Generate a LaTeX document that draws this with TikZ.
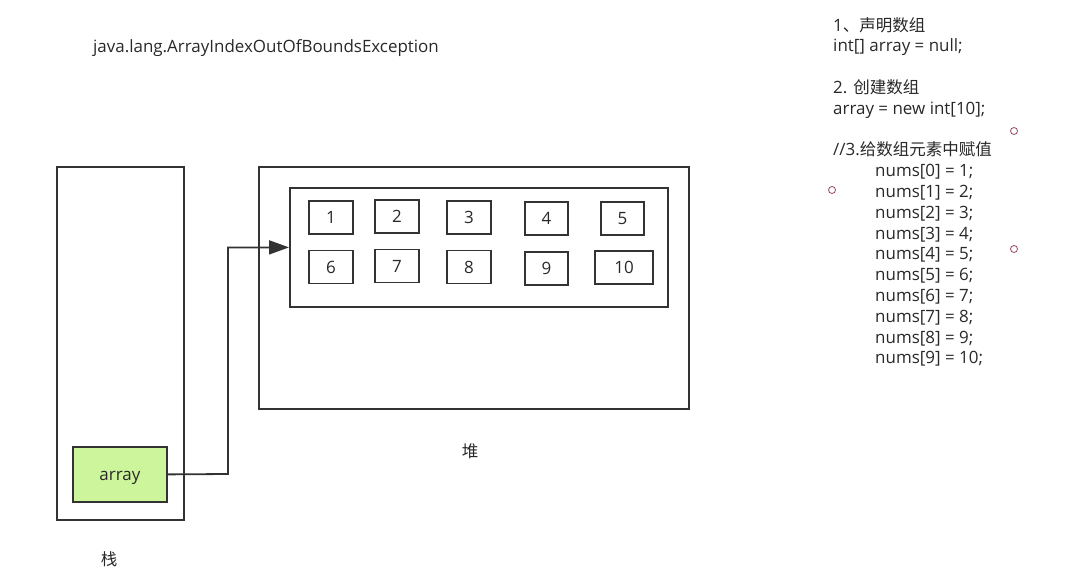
\documentclass[tikz,border=0pt]{standalone}
\usepackage{fontspec}
\setmainfont{Open Sans}[Scale=1.13]
\newfontfamily\cjk{Noto Sans CJK SC}[Scale=1.1]
\usetikzlibrary{arrows.meta}

\definecolor{linegray}{RGB}{51,51,51}
\definecolor{txtgray}{RGB}{40,40,40}
\definecolor{cellgreen}{RGB}{205,245,156}
\definecolor{handle}{RGB}{150,70,100}

\tikzset{
  frame/.style={draw=linegray, line width=1.8pt, inner sep=0pt, anchor=north west},
  cell/.style={frame, anchor=center, minimum height=33pt, text=txtgray},
  lbl/.style={text=txtgray, font=\fontsize{15}{18}\selectfont},
}

\begin{document}
\begin{tikzpicture}[x=1pt, y=-1pt, font=\fontsize{15}{18}\selectfont]
  \useasboundingbox (0,0) rectangle (1078,588);

  % stack and heap
  \node[frame, minimum width=127pt, minimum height=353pt] (stack) at (56,166) {};
  \node[frame, minimum width=430pt, minimum height=242pt] (heap)  at (258,166) {};
  \node[frame, minimum width=378pt, minimum height=119pt] (inner) at (289,187) {};
  \node[frame, fill=cellgreen, minimum width=94pt, minimum height=55pt,
        text height=12pt, text depth=0pt, text=txtgray] (arr) at (72,446) {array};

  % array elements
  \foreach \x/\y/\w/\v in {331/217.5/44/1, 397/216.5/44/2, 469/217.5/44/3,
                           546.5/218.5/43/4, 622.5/218.5/43/5,
                           331/267/44/6, 397/266/44/7, 469/267/44/8,
                           546.5/268.5/43/9, 624/267.5/58/10} {
    \node[cell, minimum width=\w pt] (c\v) at (\x,\y) {\v};
  }

  % reference from stack to heap
  \coordinate (bend) at (228,474);
  \draw[linegray, line width=1.8pt, -{Triangle[length=20pt, width=14pt]}]
        (arr.east) -- (bend) |- (inner.west);

  % labels
  \node[lbl] (title) at (266,48)  {java.lang.ArrayIndexOutOfBoundsException};
  \node[lbl] (zhan)  at (109,559) {\cjk 栈};
  \node[lbl] (dui)   at (470,451) {\cjk 堆};

  % code notes
  \node[lbl, anchor=north west, align=left, inner sep=0pt,
        font=\fontsize{15}{20.8}\selectfont] (code) at (833,17) {%
    1{\cjk 、声明数组}\\
    int[] array = null;\\[20.8pt]
    2. {\cjk 创建数组}\\
    array = new int[10];\\[20.8pt]
    //3.{\cjk 给数组元素中赋值}\\
    \hspace*{42pt}nums[0] = 1;\\
    \hspace*{42pt}nums[1] = 2;\\
    \hspace*{42pt}nums[2] = 3;\\
    \hspace*{42pt}nums[3] = 4;\\
    \hspace*{42pt}nums[4] = 5;\\
    \hspace*{42pt}nums[5] = 6;\\
    \hspace*{42pt}nums[6] = 7;\\
    \hspace*{42pt}nums[7] = 8;\\
    \hspace*{42pt}nums[8] = 9;\\
    \hspace*{42pt}nums[9] = 10;};

  % selection handles
  \foreach \x/\y/\n in {1014/131/a, 832/190/b, 1014/249/c} {
    \node[draw=handle, circle, line width=0.8pt, minimum size=7pt,
          inner sep=0pt] (h\n) at (\x,\y) {};
  }
\end{tikzpicture}
\end{document}
